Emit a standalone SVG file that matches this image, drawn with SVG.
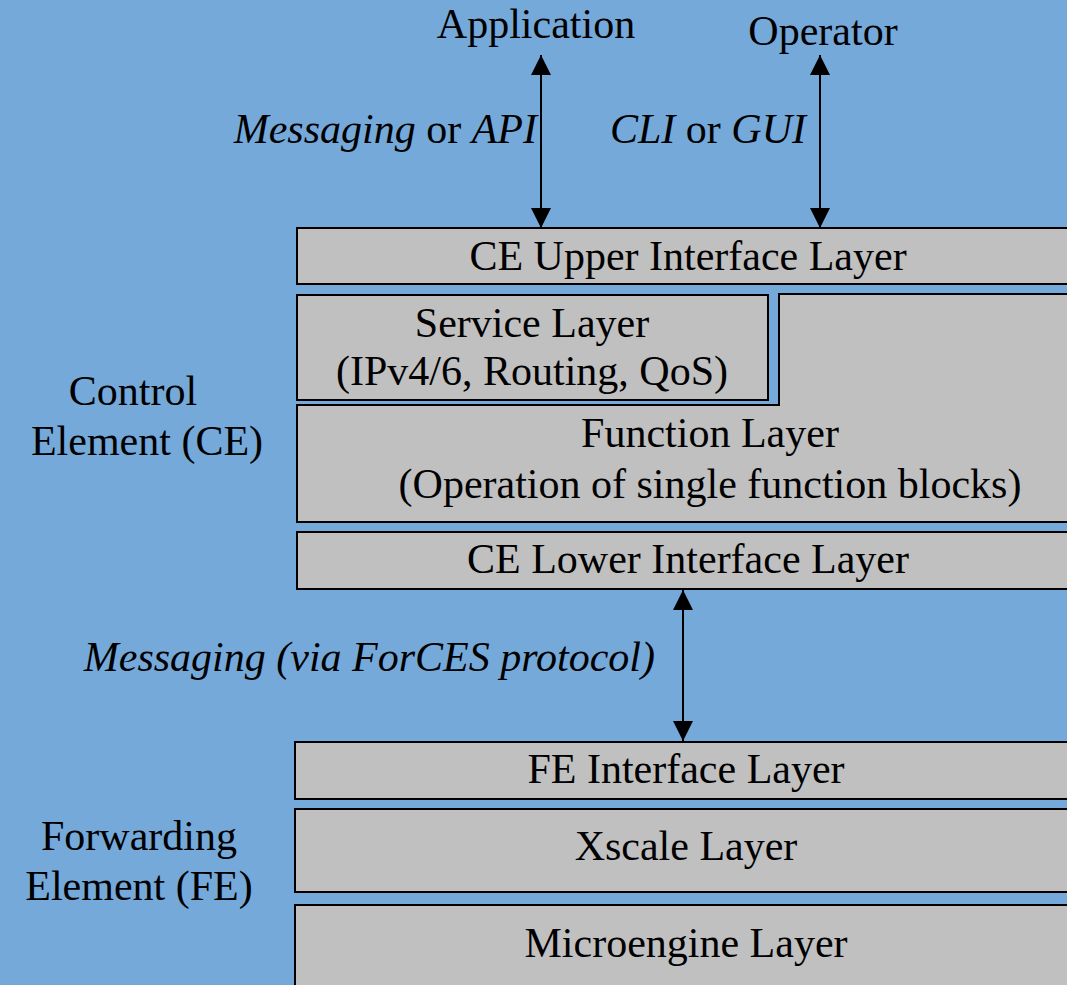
<svg xmlns="http://www.w3.org/2000/svg" width="1067" height="985" viewBox="0 0 1067 985" font-family="'Liberation Serif', 'Times New Roman', 'DejaVu Serif', serif">
<defs>
<marker id="ah" viewBox="0 0 20 20" refX="20" refY="10" markerWidth="20" markerHeight="20" markerUnits="userSpaceOnUse" orient="auto-start-reverse">
<path d="M0,0 L20,10 L0,20 Z" fill="#000"/>
</marker>
<style>
.box{fill:#c0c0c0;stroke:#000;stroke-width:2}
text{font-family:'Liberation Serif','Times New Roman','DejaVu Serif',serif;font-size:42px;fill:#000}
.c{text-anchor:middle}
.i{font-style:italic}
.conn{stroke:#000;stroke-width:2;fill:none;marker-start:url(#ah);marker-end:url(#ah)}
</style>
</defs>
<rect x="0" y="0" width="1067" height="985" fill="#75a9da"/>
<g id="application"><text class="c" x="536" y="38">Application</text></g>
<g id="operator"><text class="c" x="823" y="45">Operator</text></g>
<g id="ce-upper"><rect class="box" x="297" y="228" width="790" height="56"/><text class="c" x="688" y="270">CE Upper Interface Layer</text></g>
<g id="service"><rect class="box" x="297" y="295" width="471" height="105"/><text class="c" x="532" y="337">Service Layer</text><text class="c" x="532" y="385">(IPv4/6, Routing, QoS)</text></g>
<g id="function"><path class="box" d="M779,294 L1090,294 L1090,522 L297,522 L297,405 L779,405 Z"/><text class="c" x="710" y="447">Function Layer</text><text class="c" x="710" y="498">(Operation of single function blocks)</text></g>
<g id="ce-lower"><rect class="box" x="297" y="532" width="790" height="57"/><text class="c" x="688" y="573">CE Lower Interface Layer</text></g>
<g id="fe-interface"><rect class="box" x="295" y="742" width="792" height="57"/><text class="c" x="686" y="783">FE Interface Layer</text></g>
<g id="xscale"><rect class="box" x="295" y="809" width="792" height="83"/><text class="c" x="686" y="860">Xscale Layer</text></g>
<g id="microengine"><rect class="box" x="295" y="905" width="792" height="100"/><text class="c" x="686" y="957">Microengine Layer</text></g>
<g id="ce-label"><text class="c" x="133" y="405">Control</text><text class="c" x="147" y="455">Element (CE)</text></g>
<g id="fe-label"><text class="c" x="139" y="850">Forwarding</text><text class="c" x="139" y="900">Element (FE)</text></g>
<g id="connectors">
<line class="conn" x1="541" y1="55" x2="541" y2="228"/>
<line class="conn" x1="820" y1="55" x2="820" y2="228"/>
<line class="conn" x1="683" y1="590" x2="683" y2="741"/>
<text x="537" y="143" style="text-anchor:end"><tspan class="i">Messaging</tspan> or <tspan class="i">API</tspan></text>
<text x="610" y="143"><tspan class="i">CLI</tspan> or <tspan class="i">GUI</tspan></text>
<text class="i" x="655" y="671" style="text-anchor:end">Messaging (via ForCES protocol)</text>
</g>
</svg>
